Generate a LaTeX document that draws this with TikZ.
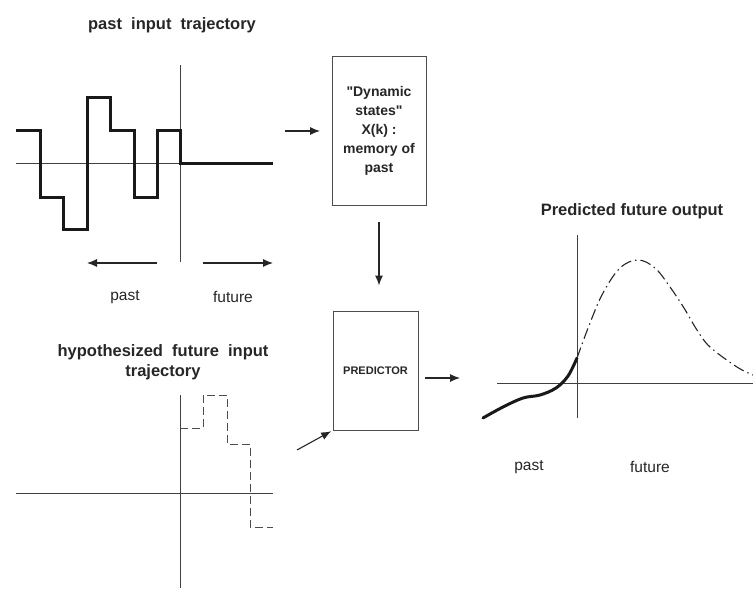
\documentclass[tikz,border=0pt]{standalone}
\usepackage{fontspec}
\setmainfont{Liberation Sans}[Ligatures=TeXOff]
\usetikzlibrary{arrows.meta}
\begin{document}
\begin{tikzpicture}[x=1pt,y=-1pt,
  axis/.style={draw=black!75,line width=0.9pt},
  thickline/.style={line width=3pt,line join=miter,black!90},
  arr/.style={draw=black!85,line width=1.1pt,-{Latex[length=10pt,width=8pt]}},
  boxnode/.style={draw=black!70,line width=1pt,inner sep=0pt},
  title/.style={font=\fontsize{16.5}{20}\selectfont\bfseries,text=black!85,align=center},
  lbl/.style={font=\fontsize{15.5}{19}\selectfont,text=black!85}]
\useasboundingbox (0,0) rectangle (753,589);

% ---- past input trajectory ----
\node[title] (t1) at (172,25) {past\ \ input\ \ trajectory};
\draw[axis] (180,65) -- (180,262);
\draw[axis] (16,163) -- (273,163);
\draw[thickline] (16,130) -- (40,130) -- (40,197) -- (63,197) -- (63,229) -- (87,229) -- (87,97)
  -- (110,97) -- (110,130) -- (134,130) -- (134,197) -- (157,197) -- (157,130) -- (180,130)
  -- (180,163) -- (273,163);
\coordinate (pl1) at (157,263); \coordinate (pl2) at (87,263);
\coordinate (fr1) at (203,263); \coordinate (fr2) at (273,263);
\draw[arr] (pl1) -- (pl2);
\draw[arr] (fr1) -- (fr2);
\node[lbl] (past1) at (125,297) {past};
\node[lbl] (fut1) at (233,297) {future};

% ---- dynamic states box ----
\node[boxnode,minimum width=94pt,minimum height=149pt,
  font=\fontsize{14}{19}\selectfont\bfseries,text=black!85,align=center] (dyn) at (379,130.5)
  {"Dynamic\\states"\\X(k) :\\memory of\\past};
\coordinate (in1) at (285,131);
\coordinate (in2) at (320,131);
\draw[arr] (in1) -- (in2);

% ---- predictor box ----
\node[boxnode,minimum width=85pt,minimum height=119pt,
  font=\fontsize{11}{13}\selectfont\bfseries,text=black!85] (pred) at (375.5,370.5) {PREDICTOR};
\draw[arr,shorten <=16pt,shorten >=25pt] (dyn.south) -- (dyn.south |- pred.north);
\coordinate (hy) at (297,450);
\draw[arr,shorten >=1.5pt] (hy) -- (pred.south west);
\coordinate (po1) at (425,378); \coordinate (po2) at (460,378);
\draw[arr] (po1) -- (po2);

% ---- hypothesized future input trajectory ----
\node[title] (t2) at (163,362) {hypothesized\ \ future\ \ input\\trajectory};
\draw[axis] (180,395) -- (180,588);
\draw[axis] (16,493) -- (273,493);
\draw[draw=black!70,line width=1pt,dash pattern=on 8pt off 4pt]
  (180,428) -- (203,428) -- (203,395) -- (227,395) -- (227,444) -- (250,444) -- (250,527) -- (273,527);

% ---- predicted future output ----
\node[title] (t3) at (632,211) {Predicted future output};
\draw[axis] (577,235) -- (577,418);
\draw[axis] (497,383) -- (753,383);
\draw[line width=3pt,line cap=round,black!90] plot[smooth,tension=0.6] coordinates
  {(483,418) (503,407) (523,398) (540,395) (556,388) (568,376) (577,358)};
\draw[black!85,line width=1.1pt,dash pattern=on 11pt off 4pt on 1.5pt off 4pt]
  plot[smooth,tension=0.6] coordinates
  {(577,358) (590,323) (603,293) (620,268) (638,260) (655,268) (670,287) (684,308) (697,330)
   (710,347) (737,367) (753,375)};
\node[lbl] (past2) at (529,467) {past};
\node[lbl] (fut2) at (650,467) {future};
\end{tikzpicture}
\end{document}
